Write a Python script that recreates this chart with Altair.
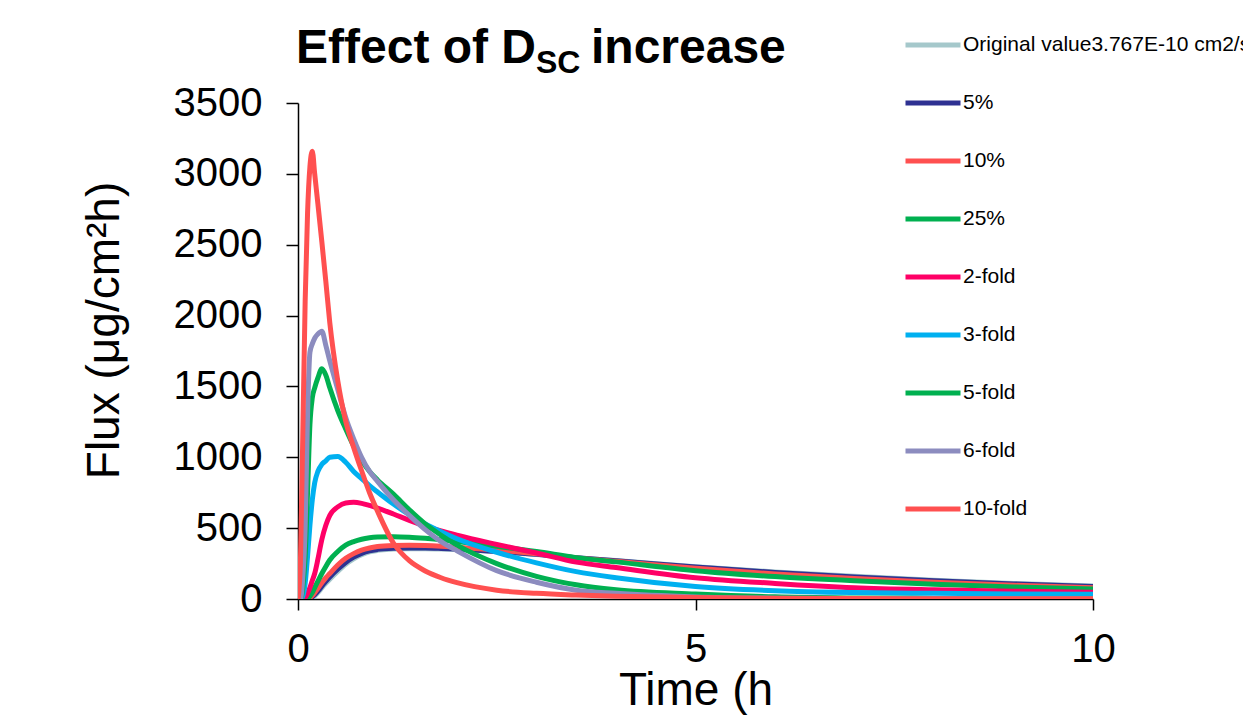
import altair as alt
import pandas as pd

# time points (h)
T = [0, 0.03, 0.06, 0.09, 0.12, 0.15, 0.18, 0.21, 0.25, 0.3, 0.35, 0.4,
     0.5, 0.6, 0.7, 0.8, 0.9, 1.0, 1.2, 1.4, 1.6, 1.8, 2.0,
     2.5, 3.0, 3.5, 4.0, 5, 6, 7, 8, 9, 10]

series_names = ["Original value3.767E-10 cm2/s", "5%", "10%", "25%",
                "2-fold", "3-fold", "5-fold", "6-fold", "10-fold"]
series_colors = ["#A5C8CB", "#2E3192", "#FF5050", "#00B050",
                 "#FF0066", "#00B0F0", "#00B050", "#8C8CBF", "#FF5050"]

original = [0, 0, 0, 0, 0, 3, 10, 22, 45, 78, 110, 140,
            195, 245, 283, 312, 332, 343, 352, 355, 355, 353, 349,
            334, 314, 292, 271, 228, 191, 160, 133, 110, 92]
inc_5pct = [0, 0, 0, 0, 1, 5, 15, 30, 55, 90, 125, 155,
            210, 258, 295, 322, 340, 350, 358, 360, 360, 357, 352,
            336, 315, 292, 270, 225, 187, 155, 128, 106, 88]
inc_10pct = [0, 0, 0, 0, 2, 10, 25, 45, 75, 115, 150, 180,
             240, 287, 320, 345, 360, 370, 378, 380, 378, 373, 366,
             345, 320, 290, 266, 217, 177, 145, 118, 97, 80]
inc_25pct = [0, 0, 0, 0, 5, 20, 45, 80, 125, 180, 230, 275,
             335, 380, 405, 422, 432, 437, 440, 436, 428, 418, 405,
             372, 335, 292, 262, 200, 158, 128, 104, 85, 70]
fold_2 = [0, 0, 0, 10, 40, 80, 130, 180, 280, 420, 520, 590,
          650, 678, 682, 675, 660, 642, 600, 555, 515, 480, 450,
          385, 325, 260, 222, 150, 110, 80, 65, 55, 48]
fold_3 = [0, 0, 20, 110, 300, 520, 700, 820, 900, 950, 975, 1000,
          1005, 965, 900, 850, 800, 755, 670, 595, 530, 475, 425,
          330, 255, 193, 150, 88, 58, 45, 40, 36, 33]
fold_5 = [0, 0, 80, 300, 750, 1230, 1420, 1490, 1560, 1625, 1580, 1490,
          1330, 1200, 1080, 980, 900, 840, 740, 630, 530, 450, 380,
          250, 160, 100, 65, 35, 15, 7, 4, 2, 1]
fold_6 = [0, 0, 150, 500, 1300, 1740, 1800, 1840, 1870, 1890, 1790, 1680,
          1480, 1280, 1130, 1000, 900, 830, 700, 590, 490, 405, 340,
          200, 118, 62, 40, 15, 6, 3, 2, 1, 1]
fold_10 = [0, 250, 1150, 2100, 2720, 3050, 3160, 3000, 2790, 2520, 2240, 1950,
           1540, 1255, 1070, 905, 750, 620, 395, 270, 198, 150, 115,
           62, 40, 28, 20, 10, 5, 3, 2, 1, 1]

all_series = [original, inc_5pct, inc_10pct, inc_25pct, fold_2, fold_3,
              fold_5, fold_6, fold_10]

x_ticks = [0, 5, 10]
y_ticks = [0, 500, 1000, 1500, 2000, 2500, 3000, 3500]

rows = []
for order, (name, vals) in enumerate(zip(series_names, all_series)):
    for t, v in zip(T, vals):
        rows.append({"t": t, "flux": v, "series": name, "k": order})
df = pd.DataFrame(rows)

FONT = "Liberation Sans"

lines = alt.Chart(df).mark_line(
    strokeWidth=5, interpolate="monotone", clip=True,
    strokeCap="round", strokeJoin="round"
).encode(
    x=alt.X("t:Q",
            scale=alt.Scale(domain=[0, 10], nice=False, zero=False),
            axis=alt.Axis(values=x_ticks, title="Time (h", format="d",
                          labelFont=FONT, labelFontSize=40, labelColor="black",
                          labelPadding=19, labelFlush=False, labelOverlap=False,
                          tickSize=11, tickColor="black", tickWidth=1.5,
                          domainColor="black", domainWidth=1.5, grid=False,
                          titleFont=FONT, titleFontSize=46, titleFontWeight="normal",
                          titleColor="black", titleX=397.5, titleY=105,
                          titleBaseline="alphabetic", titleAlign="center")),
    y=alt.Y("flux:Q",
            scale=alt.Scale(domain=[0, 3500], nice=False),
            axis=alt.Axis(values=y_ticks, title="Flux (μg/cm²h)", format="d",
                          labelFont=FONT, labelFontSize=40, labelColor="black",
                          labelPadding=24, labelOverlap=False,
                          tickSize=12, tickColor="black", tickWidth=1.5,
                          domainColor="black", domainWidth=1.5, grid=False,
                          titleFont=FONT, titleFontSize=46, titleFontWeight="normal",
                          titleColor="black", titleAngle=270, titleX=-180, titleY=227,
                          titleBaseline="alphabetic", titleAlign="center")),
    color=alt.Color("series:N",
                    scale=alt.Scale(domain=series_names, range=series_colors),
                    sort=series_names,
                    legend=alt.Legend(title=None, orient="none",
                                      legendX=605, legendY=-88,
                                      symbolType="stroke", symbolSize=3025,
                                      symbolStrokeWidth=5,
                                      labelFont=FONT, labelFontSize=21,
                                      labelColor="black", labelOffset=0,
                                      rowPadding=18, labelLimit=600, padding=0)),
    order=alt.Order("k:Q"),
)

one = pd.DataFrame({"a": [0]})
title_main = alt.Chart(one).mark_text(
    text="Effect of D", font=FONT, fontSize=48, fontWeight="bold",
    align="left", baseline="alphabetic", color="black"
).encode(x=alt.value(-2), y=alt.value(-40))
title_sub = alt.Chart(one).mark_text(
    text="SC", font=FONT, fontSize=32, fontWeight="bold",
    align="left", baseline="alphabetic", color="black"
).encode(x=alt.value(238), y=alt.value(-30))
title_end = alt.Chart(one).mark_text(
    text="increase", font=FONT, fontSize=48, fontWeight="bold",
    align="left", baseline="alphabetic", color="black"
).encode(x=alt.value(293), y=alt.value(-40))

chart = alt.layer(lines, title_main, title_sub, title_end).properties(
    width=795, height=496,
    padding={"left": 290, "top": 95, "right": 150, "bottom": 116},
    autosize=alt.AutoSizeParams(type="none"),
    background="white",
).configure_view(stroke=None)

chart.save("out.html", embed_options={"renderer": "svg", "actions": False})
